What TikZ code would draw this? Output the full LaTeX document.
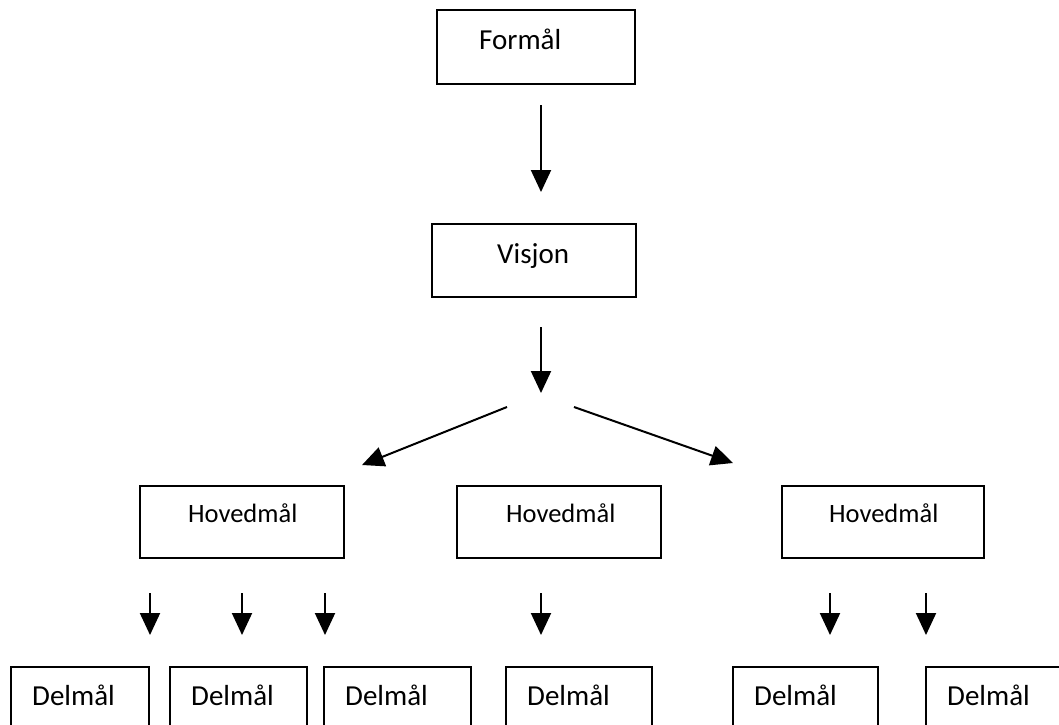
\documentclass[tikz,border=0pt]{standalone}
\usepackage{fontspec}
\setmainfont{Carlito}
\usetikzlibrary{arrows.meta,calc}
\begin{document}
\begin{tikzpicture}[x=1pt,y=-1pt,
  box/.style={draw=black, line width=2.6pt, rectangle, inner sep=0pt, outer sep=0pt, fill=white},
  big/.style={font=\fontsize{29}{34}\selectfont, inner sep=0pt, anchor=base west},
  small/.style={font=\fontsize{26.5}{31}\selectfont, inner sep=0pt, anchor=base west},
  arr/.style={line width=2pt, -{Triangle[width=20pt,length=22pt]}},
]
\useasboundingbox (0,0) rectangle (1059,724);
\fill[white] (0,0) rectangle (1059,724);
\clip (0,0) rectangle (1059,724);

% boxes
\node[box, minimum width=198pt, minimum height=74pt] (formal) at (536,47) {};
\node[box, minimum width=204pt, minimum height=73pt] (visjon) at (534,260.5) {};
\node[box, minimum width=204pt, minimum height=72pt] (hl) at (242,522) {};
\node[box, minimum width=204pt, minimum height=72pt] (hm) at (559,522) {};
\node[box, minimum width=202pt, minimum height=72pt] (hr) at (883,522) {};
\node[box, minimum width=138pt, minimum height=100pt] (d1) at (80,717) {};
\node[box, minimum width=137pt, minimum height=100pt] (d2) at (238.5,717) {};
\node[box, minimum width=147pt, minimum height=100pt] (d3) at (397.5,717) {};
\node[box, minimum width=146pt, minimum height=100pt] (d4) at (579,717) {};
\node[box, minimum width=145pt, minimum height=100pt] (d5) at (805.5,717) {};
\node[box, minimum width=144pt, minimum height=100pt] (d6) at (998,717) {};

% labels
\node[big] (tformal) at ($(formal.north west)+(42,39)$) {Formål};
\node[big] (tvisjon) at ($(visjon.north west)+(65,39)$) {Visjon};
\node[small] (thl) at ($(hl.north west)+(48,36)$) {Hovedmål};
\node[small] (thm) at ($(hm.north west)+(49,36)$) {Hovedmål};
\node[small] (thr) at ($(hr.north west)+(47,36)$) {Hovedmål};
\foreach \d in {d1,d2,d3,d4,d5,d6}
  \node[big] (t\d) at ($(\d.north west)+(21,38)$) {Delmål};

% arrow end points
\coordinate (a1s) at (541,105);  \coordinate (a1e) at (541,192);
\coordinate (a2s) at (541,327);  \coordinate (a2e) at (541,393);
\coordinate (bls) at (507,407);  \coordinate (ble) at (362,465);
\coordinate (brs) at (574,407);  \coordinate (bre) at (733,463);
\foreach \n/\x in {1/150,2/242,3/325,4/541,5/830,6/926}{
  \coordinate (c\n s) at (\x,593);
  \coordinate (c\n e) at (\x,635);
}

% arrows
\draw[arr] (a1s) -- (a1e);
\draw[arr] (a2s) -- (a2e);
\draw[arr] (bls) -- (ble);
\draw[arr] (brs) -- (bre);
\foreach \n in {1,...,6}
  \draw[arr] (c\n s) -- (c\n e);
\end{tikzpicture}
\end{document}
